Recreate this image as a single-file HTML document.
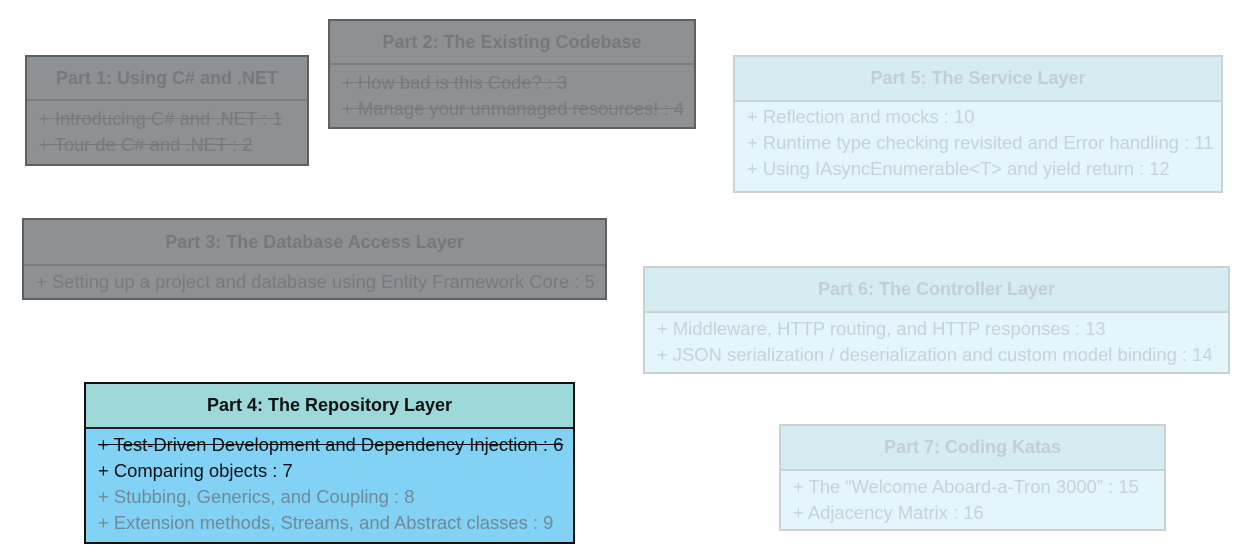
<!DOCTYPE html>
<html><head><style>
body{margin:0;width:1247px;height:556px;background:#fff;position:relative;overflow:hidden;font-family:"Liberation Sans",sans-serif}
.b{position:absolute;box-sizing:border-box;border:2px solid #555}
.h{box-sizing:border-box;text-align:center;font-weight:bold;font-size:18px;border-bottom:2px solid #666}
.it{font-size:18.4px;line-height:26px;padding-left:12px;white-space:nowrap}
.g{background:#8e9194;border-color:#5d5f61}
.g .h{color:#76797c;border-color:#7a7d80}
.g .it{color:#777a7d}
.l{background:#e4f5fb;border-color:#c9d2d5}
.l .h{background:#d5edf2;color:#c3cfd3;border-color:#c9d2d5}
.l .it{color:#c6d3d7}
s{text-decoration:line-through}
</style></head><body>
<div class="b g" style="left:25px;top:55px;width:284px;height:111px">
<div class="h" style="height:44px;line-height:42px">Part 1: Using C# and .NET</div>
<div style="padding-top:5px"><div class="it"><s>+ Introducing C# and .NET : 1</s></div><div class="it"><s>+ Tour de C# and .NET : 2</s></div></div></div>
<div class="b g" style="left:328px;top:19px;width:368px;height:110px">
<div class="h" style="height:44px;line-height:42px">Part 2: The Existing Codebase</div>
<div style="padding-top:5px"><div class="it"><s>+ How bad is this Code? : 3</s></div><div class="it"><s>+ Manage your unmanaged resources! : 4</s></div></div></div>
<div class="b g" style="left:22px;top:218px;width:585px;height:82px">
<div class="h" style="height:46px;line-height:44px">Part 3: The Database Access Layer</div>
<div style="padding-top:3px"><div class="it">+ Setting up a project and database using Entity Framework Core : 5</div></div></div>
<div class="b" style="left:84px;top:382px;width:491px;height:162px;background:#82d2f5;border-color:#111">
<div class="h" style="height:45px;line-height:43px;background:#9ed9d9;color:#111;border-color:#222">Part 4: The Repository Layer</div>
<div style="padding-top:3px"><div class="it" style="color:#111"><s>+ Test-Driven Development and Dependency Injection : 6</s></div><div class="it" style="color:#111">+ Comparing objects : 7</div><div class="it" style="color:#6f8a98">+ Stubbing, Generics, and Coupling : 8</div><div class="it" style="color:#6f8a98">+ Extension methods, Streams, and Abstract classes : 9</div></div></div>
<div class="b l" style="left:733px;top:55px;width:490px;height:138px">
<div class="h" style="height:45px;line-height:43px">Part 5: The Service Layer</div>
<div style="padding-top:2px"><div class="it">+ Reflection and mocks : 10</div><div class="it">+ Runtime type checking revisited and Error handling : 11</div><div class="it">+ Using IAsyncEnumerable&lt;T&gt; and yield return : 12</div></div></div>
<div class="b l" style="left:643px;top:266px;width:587px;height:108px">
<div class="h" style="height:45px;line-height:43px">Part 6: The Controller Layer</div>
<div style="padding-top:3px"><div class="it">+ Middleware, HTTP routing, and HTTP responses : 13</div><div class="it">+ JSON serialization / deserialization and custom model binding : 14</div></div></div>
<div class="b l" style="left:779px;top:424px;width:387px;height:107px">
<div class="h" style="height:45px;line-height:43px">Part 7: Coding Katas</div>
<div style="padding-top:3px"><div class="it">+ The “Welcome Aboard-a-Tron 3000” : 15</div><div class="it">+ Adjacency Matrix : 16</div></div></div>
</body></html>
